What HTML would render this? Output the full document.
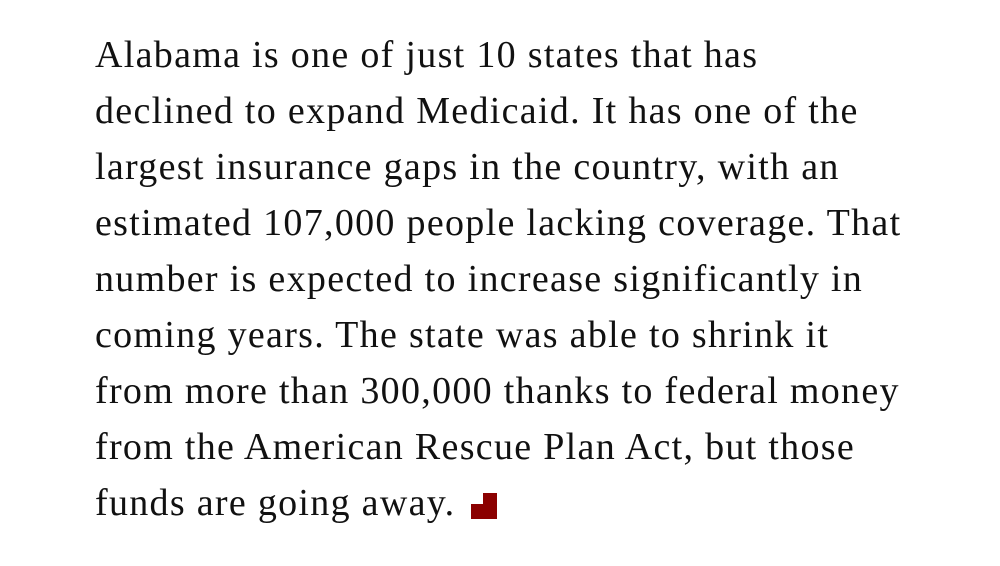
<!DOCTYPE html>
<html><head><style>
html,body{margin:0;padding:0;background:#fff;}
body{width:1000px;height:566px;overflow:hidden;position:relative;}
.t{position:absolute;left:95px;top:27px;font-family:"Liberation Serif",serif;font-size:38px;letter-spacing:1.3px;line-height:56px;color:#111;white-space:nowrap;}
.m{display:inline-block;position:relative;width:26px;height:26px;margin-left:16px;vertical-align:-4px;}
.m:before{content:"";position:absolute;left:12px;top:0;width:14px;height:26px;background:#8b0000;}
.m:after{content:"";position:absolute;left:0;top:11px;width:26px;height:15px;background:#8b0000;}
</style></head><body>
<div class="t">Alabama is one of just 10 states that has<br>declined to expand Medicaid. It has one of the<br>largest insurance gaps in the country, with an<br>estimated 107,000 people lacking coverage. That<br>number is expected to increase significantly in<br>coming years. The state was able to shrink it<br>from more than 300,000 thanks to federal money<br>from the American Rescue Plan Act, but those<br>funds are going away.<span class="m"></span></div>
</body></html>
